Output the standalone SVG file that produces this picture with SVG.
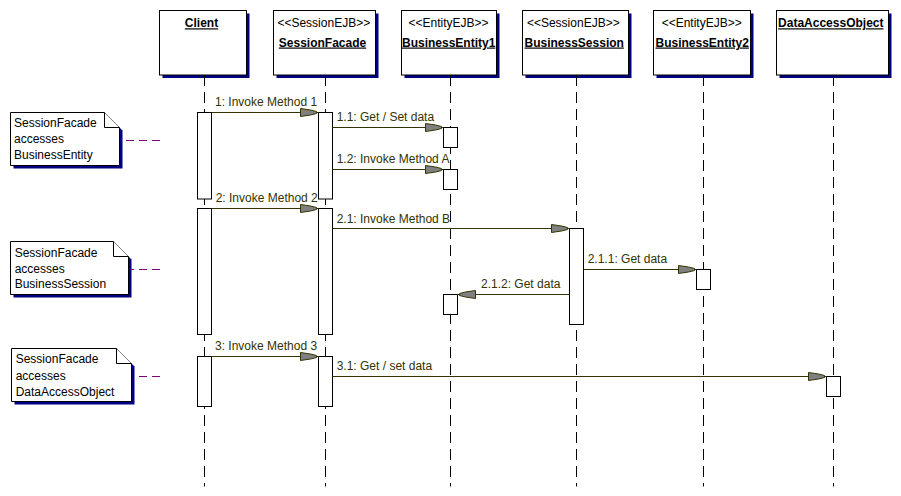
<svg xmlns="http://www.w3.org/2000/svg" xmlns:xlink="http://www.w3.org/1999/xlink" width="901" height="496" viewBox="0 0 901 496">
<style>
text{font-family:"Liberation Sans",Arial,sans-serif;font-size:12px}
.hdr{fill:#fff;stroke:#000;stroke-width:1}
.shd{fill:#000080}
.name{font-weight:bold;text-decoration:underline;fill:#000;text-anchor:middle}
.ster{fill:#000;text-anchor:middle}
.life{stroke:#000;stroke-width:1;stroke-dasharray:11 6;fill:none}
.act{fill:#fff;stroke:#000;stroke-width:1}
.msg{stroke:#333300;stroke-width:1;fill:none}
.lbl{fill:#333300}
.ah{fill:#808080;stroke:#333300;stroke-width:1}
.note{fill:#fff;stroke:#000;stroke-width:1}
.ntxt{fill:#000}
.nlink{stroke:#800080;stroke-width:1;stroke-dasharray:8 5;fill:none}
</style>
<defs>
<path id="ah" d="M0,-1 L-6,-2.5 L-16,-4 L-16,4 L-6,2.5 L0,1 Z"/>
</defs>
<rect width="901" height="496" fill="#fff"/>

<g id="client">
<rect class="shd" x="162.5" y="13.5" width="87" height="64.5"/>
<rect class="hdr" x="159.5" y="10.5" width="87" height="64.5"/>
<text class="name" x="201.5" y="27.3">Client</text>
<line class="life" x1="204.5" y1="75" x2="204.5" y2="486.5"/>
<rect class="act" x="197.5" y="112.5" width="14" height="86.5"/>
<rect class="act" x="197.5" y="208.5" width="14" height="126"/>
<rect class="act" x="197.5" y="356.5" width="14" height="50"/>
</g>

<g id="sessionfacade">
<rect class="shd" x="276.5" y="13.5" width="102" height="64.5"/>
<rect class="hdr" x="273.5" y="10.5" width="102" height="64.5"/>
<text class="ster" x="323.8" y="27.3">&lt;&lt;SessionEJB&gt;&gt;</text>
<text class="name" x="322.5" y="46.5">SessionFacade</text>
<line class="life" x1="325.5" y1="75" x2="325.5" y2="486.5"/>
<rect class="act" x="318.5" y="112.5" width="14" height="86.5"/>
<rect class="act" x="318.5" y="208.5" width="14" height="126"/>
<rect class="act" x="318.5" y="356.5" width="14" height="50"/>
</g>

<g id="businessentity1">
<rect class="shd" x="404.5" y="13.5" width="95" height="64.5"/>
<rect class="hdr" x="401.5" y="10.5" width="95" height="64.5"/>
<text class="ster" x="448.5" y="27.3">&lt;&lt;EntityEJB&gt;&gt;</text>
<text class="name" x="448.7" y="46.5">BusinessEntity1</text>
<line class="life" x1="450.5" y1="75" x2="450.5" y2="486.5"/>
<rect class="act" x="443.5" y="127.5" width="14" height="20"/>
<rect class="act" x="443.5" y="169.5" width="14" height="20"/>
<rect class="act" x="443.5" y="294.5" width="14" height="20"/>
</g>

<g id="businesssession">
<rect class="shd" x="525.5" y="13.5" width="106" height="64.5"/>
<rect class="hdr" x="522.5" y="10.5" width="106" height="64.5"/>
<text class="ster" x="573.3" y="27.3">&lt;&lt;SessionEJB&gt;&gt;</text>
<text class="name" x="574.2" y="46.5">BusinessSession</text>
<line class="life" x1="576.5" y1="75" x2="576.5" y2="486.5"/>
<rect class="act" x="569.5" y="228.5" width="14" height="96"/>
</g>

<g id="businessentity2">
<rect class="shd" x="656.5" y="13.5" width="97" height="64.5"/>
<rect class="hdr" x="653.5" y="10.5" width="97" height="64.5"/>
<text class="ster" x="701.7" y="27.3">&lt;&lt;EntityEJB&gt;&gt;</text>
<text class="name" x="702.2" y="46.5">BusinessEntity2</text>
<line class="life" x1="703.5" y1="75" x2="703.5" y2="486.5"/>
<rect class="act" x="696.5" y="269.5" width="14" height="20"/>
</g>

<g id="dataaccessobject">
<rect class="shd" x="779.5" y="13.5" width="112" height="64.5"/>
<rect class="hdr" x="776.5" y="10.5" width="112" height="64.5"/>
<text class="name" x="830.8" y="27.3">DataAccessObject</text>
<line class="life" x1="833.5" y1="75" x2="833.5" y2="486.5"/>
<rect class="act" x="826.5" y="376.5" width="14" height="20"/>
</g>

<g id="note1">
<polygon class="shd" points="13.5,115.5 107.5,115.5 122.5,130.5 122.5,168.5 13.5,168.5"/>
<polygon class="note" points="10.5,112.5 104.5,112.5 119.5,127.5 119.5,165.5 10.5,165.5"/>
<path class="note" d="M104.5,112.5 V127.5 H119.5" fill="none"/>
<text class="ntxt" x="14" y="127.3">SessionFacade</text>
<text class="ntxt" x="14" y="143.3">accesses</text>
<text class="ntxt" x="14" y="159">BusinessEntity</text>
</g>

<g id="note2">
<polygon class="shd" points="13.5,244.5 116.5,244.5 131.5,259.5 131.5,297.5 13.5,297.5"/>
<polygon class="note" points="10.5,241.5 113.5,241.5 128.5,256.5 128.5,294.5 10.5,294.5"/>
<path class="note" d="M113.5,241.5 V256.5 H128.5" fill="none"/>
<text class="ntxt" x="14.7" y="256.5">SessionFacade</text>
<text class="ntxt" x="14.7" y="272.7">accesses</text>
<text class="ntxt" x="14.7" y="288.3">BusinessSession</text>
</g>

<g id="note3">
<polygon class="shd" points="14.5,351.5 119.5,351.5 134.5,366.5 134.5,404.5 14.5,404.5"/>
<polygon class="note" points="11.5,348.5 116.5,348.5 131.5,363.5 131.5,401.5 11.5,401.5"/>
<path class="note" d="M116.5,348.5 V363.5 H131.5" fill="none"/>
<text class="ntxt" x="15.7" y="363.3">SessionFacade</text>
<text class="ntxt" x="15.7" y="379.5">accesses</text>
<text class="ntxt" x="15.7" y="395.7">DataAccessObject</text>
</g>

<g id="connectors">
<line class="nlink" x1="160" y1="140.5" x2="124" y2="140.5"/>
<line class="nlink" x1="160" y1="269.5" x2="131" y2="269.5"/>
<line class="nlink" x1="160" y1="376.5" x2="134" y2="376.5"/>

<line class="msg" x1="211.5" y1="112.5" x2="318.5" y2="112.5"/>
<use xlink:href="#ah" class="ah" transform="translate(316.5,112.5)"/>
<text class="lbl" x="215" y="105.5">1: Invoke Method 1</text>

<line class="msg" x1="332.5" y1="127.5" x2="443.5" y2="127.5"/>
<use xlink:href="#ah" class="ah" transform="translate(441.5,127.5)"/>
<text class="lbl" x="336.7" y="120.5">1.1: Get / Set data</text>

<line class="msg" x1="332.5" y1="169.5" x2="443.5" y2="169.5"/>
<use xlink:href="#ah" class="ah" transform="translate(441.5,169.5)"/>
<text class="lbl" x="336.7" y="163">1.2: Invoke Method A</text>

<line class="msg" x1="211.5" y1="208.5" x2="318.5" y2="208.5"/>
<use xlink:href="#ah" class="ah" transform="translate(316.5,208.5)"/>
<text class="lbl" x="215.7" y="201.5">2: Invoke Method 2</text>

<line class="msg" x1="332.5" y1="228.5" x2="569.5" y2="228.5"/>
<use xlink:href="#ah" class="ah" transform="translate(567.5,228.5)"/>
<text class="lbl" x="336.7" y="222.5">2.1: Invoke Method B</text>

<line class="msg" x1="583.5" y1="269.5" x2="696.5" y2="269.5"/>
<use xlink:href="#ah" class="ah" transform="translate(694.5,269.5)"/>
<text class="lbl" x="587.7" y="262.5">2.1.1: Get data</text>

<line class="msg" x1="569.5" y1="294.5" x2="457.5" y2="294.5"/>
<use xlink:href="#ah" class="ah" transform="translate(459.5,294.5) scale(-1,1)"/>
<text class="lbl" x="481" y="287.5">2.1.2: Get data</text>

<line class="msg" x1="211.5" y1="356.5" x2="318.5" y2="356.5"/>
<use xlink:href="#ah" class="ah" transform="translate(316.5,356.5)"/>
<text class="lbl" x="215" y="350">3: Invoke Method 3</text>

<line class="msg" x1="332.5" y1="376.5" x2="826.5" y2="376.5"/>
<use xlink:href="#ah" class="ah" transform="translate(824.5,376.5)"/>
<text class="lbl" x="336.7" y="370">3.1: Get / set data</text>
</g>
</svg>
